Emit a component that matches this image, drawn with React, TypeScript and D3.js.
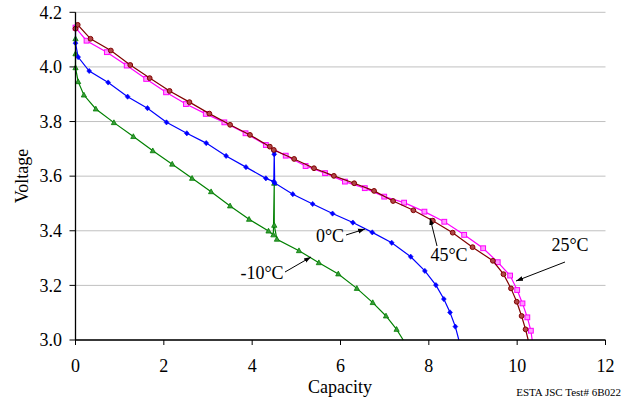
import React from "react";
import * as d3 from "d3";

const xTicks = [0, 2, 4, 6, 8, 10, 12];
const yTicks = [3.0, 3.2, 3.4, 3.6, 3.8, 4.0, 4.2];

const cap45 = [0, 0.05, 0.34, 0.80, 1.24, 1.68, 2.13, 2.58, 3.03, 3.50, 3.95, 4.40, 4.49, 4.95, 5.40, 5.85, 6.31, 6.76, 7.19, 7.65, 8.09, 8.54, 8.99, 9.45, 9.69, 9.86, 9.99, 10.10, 10.19, 10.25];
const v45 = [4.14, 4.154, 4.103, 4.060, 4.007, 3.959, 3.912, 3.871, 3.829, 3.788, 3.751, 3.708, 3.696, 3.663, 3.629, 3.601, 3.574, 3.546, 3.509, 3.475, 3.437, 3.393, 3.340, 3.290, 3.241, 3.189, 3.140, 3.088, 3.039, 3.0];

const cap25 = [0.0, 0.25, 0.71, 1.16, 1.60, 2.05, 2.50, 2.95, 3.37, 3.85, 4.31, 4.76, 5.21, 5.65, 6.10, 6.55, 6.99, 7.44, 7.90, 8.35, 8.80, 9.23, 9.56, 9.84, 10.00, 10.12, 10.23, 10.31, 10.34];
const v25 = [4.144, 4.096, 4.054, 4.005, 3.956, 3.907, 3.864, 3.828, 3.797, 3.757, 3.714, 3.675, 3.637, 3.611, 3.580, 3.556, 3.525, 3.503, 3.470, 3.433, 3.385, 3.336, 3.285, 3.236, 3.183, 3.134, 3.083, 3.034, 3.0];

const cap0 = [0, 0, 0.06, 0.31, 0.74, 1.18, 1.63, 2.06, 2.52, 2.96, 3.41, 3.86, 4.31, 4.49, 4.50, 4.50, 4.51, 4.92, 5.37, 5.82, 6.28, 6.72, 7.16, 7.59, 7.91, 8.16, 8.34, 8.48, 8.60, 8.68];
const v0 = [4.139, 4.087, 4.036, 3.985, 3.943, 3.891, 3.849, 3.797, 3.757, 3.721, 3.674, 3.633, 3.592, 3.580, 3.690, 3.680, 3.575, 3.534, 3.498, 3.463, 3.430, 3.394, 3.356, 3.305, 3.253, 3.201, 3.150, 3.101, 3.049, 3.0];

const capM10 = [0, 0, 0, 0.06, 0.19, 0.46, 0.87, 1.31, 1.75, 2.19, 2.64, 3.07, 3.50, 3.93, 4.37, 4.48, 4.50, 4.50, 4.56, 5.06, 5.51, 5.95, 6.37, 6.73, 7.03, 7.27, 7.42];
const vM10 = [4.103, 4.048, 3.997, 3.946, 3.897, 3.846, 3.796, 3.745, 3.693, 3.644, 3.592, 3.543, 3.491, 3.442, 3.399, 3.385, 3.574, 3.420, 3.369, 3.327, 3.283, 3.242, 3.189, 3.137, 3.088, 3.039, 3.0];

const annotations = [
  { text: "0°C", tx: 330, ty: 242, x1: 346, y1: 235, x2: 365, y2: 229 },
  { text: "-10°C", tx: 262, ty: 279, x1: 285, y1: 272, x2: 311, y2: 257 },
  { text: "45°C", tx: 449, ty: 261, x1: 437, y1: 246, x2: 430, y2: 218 },
  { text: "25°C", tx: 570, ty: 251, x1: 565, y1: 262, x2: 516, y2: 281 },
];

type Series = { cap: number[]; v: number[]; color: string; fill: string; marker: string };

const series: Series[] = [
  { cap: capM10, v: vM10, color: "#008000", fill: "#3a9a3a", marker: "triangle" },
  { cap: cap0, v: v0, color: "#0000ff", fill: "#0000ff", marker: "diamond" },
  { cap: cap25, v: v25, color: "#ff00ff", fill: "#ff99ff", marker: "square" },
  { cap: cap45, v: v45, color: "#800000", fill: "#b04848", marker: "circle" },
];

export default function App() {
  const W = 631, H = 400;
  const x = d3.scaleLinear().domain([0, 12]).range([75.5, 605.5]);
  const y = d3.scaleLinear().domain([3.0, 4.2]).range([340, 12.3]);
  const line = d3.line<[number, number]>().x((d) => x(d[0])).y((d) => y(d[1]));
  const serif = "'Liberation Serif', 'Times New Roman', serif";

  const marker = (m: string, cx: number, cy: number, s: Series, key: string) => {
    if (m === "circle") return <circle key={key} cx={cx} cy={cy} r={2.4} fill={s.fill} stroke={s.color} strokeWidth={1} />;
    if (m === "square") return <rect key={key} x={cx - 2.4} y={cy - 2.4} width={4.8} height={4.8} fill={s.fill} stroke={s.color} strokeWidth={1} />;
    if (m === "diamond") return <path key={key} d={`M${cx},${cy - 2.6}L${cx + 2.4},${cy}L${cx},${cy + 2.6}L${cx - 2.4},${cy}Z`} fill={s.fill} stroke={s.color} strokeWidth={0.6} />;
    return <path key={key} d={`M${cx},${cy - 2.8}L${cx + 2.6},${cy + 2}L${cx - 2.6},${cy + 2}Z`} fill={s.fill} stroke={s.color} strokeWidth={0.8} />;
  };

  return (
    <svg width={W} height={H} style={{ position: "absolute", left: 0, top: 0, background: "#fff" }} fontFamily={serif}>
      <defs>
        <marker id="arr" viewBox="0 0 10 10" refX="10" refY="5" markerWidth="7" markerHeight="7" orient="auto" markerUnits="userSpaceOnUse">
          <path d="M0,1.5L10,5L0,8.5Z" fill="#000" />
        </marker>
      </defs>
      {yTicks.map((t) => (
        <line key={"g" + t} x1={x(0)} x2={x(12)} y1={y(t)} y2={y(t)} stroke="#c0c0c0" strokeWidth={1} />
      ))}
      {series.map((s, i) => {
        const pts = s.cap.map((c, j) => [c, s.v[j]] as [number, number]);
        return (
          <g key={"s" + i}>
            <path d={line(pts) || ""} fill="none" stroke={s.color} strokeWidth={1.2} />
            {pts.filter((p) => p[1] > 3.0).map((p, j) => marker(s.marker, x(p[0]), y(p[1]), s, "m" + j))}
          </g>
        );
      })}
      <line x1={x(0)} x2={x(0)} y1={y(4.2)} y2={y(3.0)} stroke="#000" strokeWidth={1.3} />
      <line x1={x(0)} x2={x(12)} y1={y(3.0)} y2={y(3.0)} stroke="#000" strokeWidth={1.3} />
      {yTicks.map((t) => (
        <g key={"yt" + t}>
          <line x1={x(0) - 6} x2={x(0)} y1={y(t)} y2={y(t)} stroke="#000" strokeWidth={1} />
          <text x={62} y={y(t)} dy="0.35em" textAnchor="end" fontSize={18} fill="#000">{t.toFixed(1)}</text>
        </g>
      ))}
      {xTicks.map((t) => (
        <g key={"xt" + t}>
          <line x1={x(t)} x2={x(t)} y1={y(3.0)} y2={y(3.0) + 5} stroke="#000" strokeWidth={1} />
          <text x={x(t)} y={372} textAnchor="middle" fontSize={18} fill="#000">{t}</text>
        </g>
      ))}
      <text x={340} y={393} textAnchor="middle" fontSize={18} fill="#000">Capacity</text>
      <text transform="translate(28,176) rotate(-90)" textAnchor="middle" fontSize={18} fill="#000">Voltage</text>
      <text x={621} y={396} textAnchor="end" fontSize={11} fill="#000">ESTA JSC Test# 6B022</text>
      {annotations.map((a) => (
        <g key={a.text}>
          <line x1={a.x1} y1={a.y1} x2={a.x2} y2={a.y2} stroke="#000" strokeWidth={1} markerEnd="url(#arr)" />
          <text x={a.tx} y={a.ty} textAnchor="middle" fontSize={18} fill="#000">{a.text}</text>
        </g>
      ))}
    </svg>
  );
}
